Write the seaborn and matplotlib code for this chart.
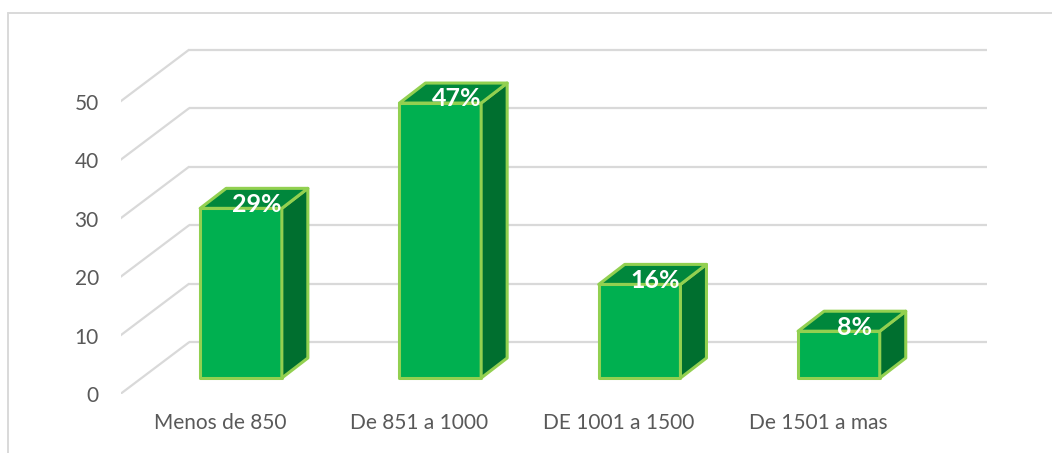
import numpy as np
import pandas as pd
import seaborn as sns
import matplotlib.pyplot as plt
from matplotlib.patches import Polygon
from matplotlib.lines import Line2D

# Data
categories = ['Menos de 850', 'De 851 a 1000', 'DE 1001 a 1500', 'De 1501 a mas']
values = [29, 47, 16, 8]
pct_labels = ['29%', '47%', '16%', '8%']
y_ticks = [0, 10, 20, 30, 40, 50]

df = pd.DataFrame({'rango': categories, 'valor': values})

sns.set_style('white')
plt.rcParams['font.family'] = ['Lato', 'DejaVu Sans']

W, H = 1052, 453
fig = plt.figure(figsize=(W / 100, H / 100), dpi=100)

# axes placed so that data units line up with the reference in pixels
px_per_cat = 199.3
px_per_val = 5.85
ax_left, ax_right, ax_top, ax_bot = 121, 1052, 0, 394
ax = fig.add_axes([ax_left / W, (H - ax_bot) / H, (ax_right - ax_left) / W, (ax_bot - ax_top) / H])

# depth offsets (data units) for the fake 3d look
fdx, fdy = -21 / px_per_cat, -16 / px_per_val   # front edge of floor
bdx, bdy = 48 / px_per_cat, 36 / px_per_val     # back wall
ddx, ddy = 26 / px_per_cat, 20 / px_per_val     # bar depth

grid_c = '#D9D9D9'
front_c = '#00B050'
top_c = '#00873C'
side_c = '#006F2F'
edge_c = '#92D050'

# walls: side diagonals + back wall lines
x_lo, x_hi = -0.5, len(categories) - 0.5
for v in y_ticks:
    ax.plot([x_lo + fdx, x_lo + bdx], [v + fdy, v + bdy], color=grid_c, lw=1.6, zorder=0,
            solid_capstyle='butt')
    ax.plot([x_lo + bdx, x_hi + bdx], [v + bdy, v + bdy], color=grid_c, lw=1.6, zorder=0,
            solid_capstyle='butt')

sns.barplot(data=df, x='rango', y='valor', color=front_c, width=0.41, saturation=1,
            edgecolor=edge_c, linewidth=2.2, ax=ax, zorder=3)

for p, lab in zip(ax.patches, pct_labels):
    p.set_joinstyle('round')
    x0, w, h = p.get_x(), p.get_width(), p.get_height()
    x1 = x0 + w
    top = Polygon([(x0, h), (x1, h), (x1 + ddx, h + ddy), (x0 + ddx, h + ddy)],
                  closed=True, fc=top_c, ec=edge_c, lw=2.2, joinstyle='round', zorder=3)
    side = Polygon([(x1, 0), (x1 + ddx, ddy), (x1 + ddx, h + ddy), (x1, h)],
                   closed=True, fc=side_c, ec=edge_c, lw=2.2, joinstyle='round', zorder=3)
    ax.add_patch(side)
    ax.add_patch(top)
    ax.annotate(lab, (x0 + w / 2, h), xytext=(11.5, 3.0), textcoords='offset points',
                ha='center', va='center', color='white', fontsize=18, fontweight='bold',
                zorder=5)

ax.set_xlim((ax_left - 241) / px_per_cat, (ax_right - 241) / px_per_cat)
ax.set_ylim((378 - ax_bot) / px_per_val, (378 - ax_top) / px_per_val)

ax.set_xticks(np.arange(len(categories)) + fdx)
ax.set_xticklabels(categories)
ax.set_yticks(np.array(y_ticks) + fdy)
ax.set_yticklabels([str(t) for t in y_ticks])
ax.tick_params(axis='both', length=0, labelsize=15, labelcolor='#595959')
ax.tick_params(axis='y', pad=16)
ax.tick_params(axis='x', pad=14)
ax.set_xlabel('')
ax.set_ylabel('')
for s in ax.spines.values():
    s.set_visible(False)
ax.patch.set_alpha(0)

# outer chart frame (top and left only visible)
fy = (H - 13) / H
fx = 8 / W
fig.add_artist(Line2D([fx, 1], [fy, fy], color=grid_c, lw=1.4))
fig.add_artist(Line2D([fx, fx], [0, fy], color=grid_c, lw=1.4))

fig.savefig('out.png', dpi=100)
